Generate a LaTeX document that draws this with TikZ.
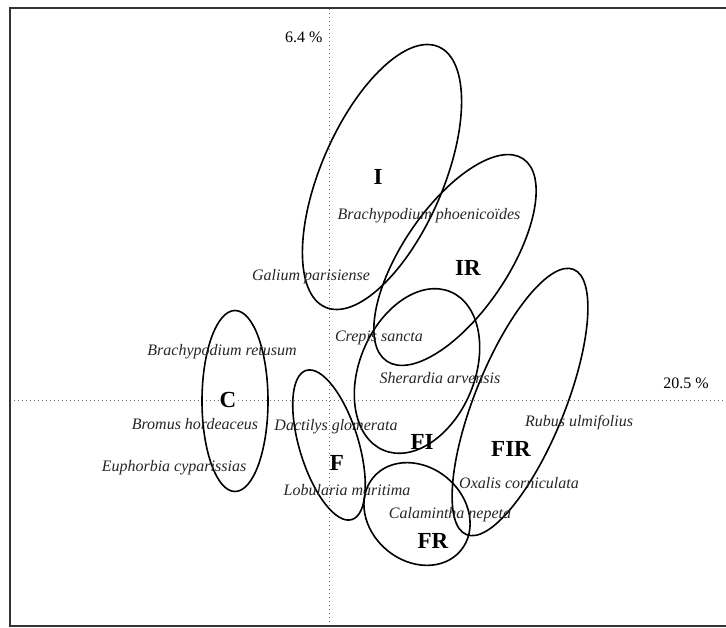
\documentclass[tikz,border=0pt]{standalone}
\usepackage{fontspec}
\setmainfont{Liberation Serif}
\usetikzlibrary{positioning}
\definecolor{axisgray}{RGB}{110,110,110}

\begin{document}
\begin{tikzpicture}[x=1pt, y=-1pt,
    grp/.style={font=\fontsize{23}{23}\selectfont\bfseries, fill=white, inner sep=1pt},
    sp/.style={font=\fontsize{16}{16}\selectfont\itshape, text=black!85, inner sep=0pt},
    zone/.style={line width=1.6pt},
    axisline/.style={axisgray, line width=1pt, dash pattern=on 1pt off 3pt}]
  \useasboundingbox (0,0) rectangle (726,628);

  % axes and frame
  \draw[axisline] (10,401) -- (726,401);
  \draw[axisline] (329,9) -- (329,626);
  \draw[line width=1.6pt, black!80] (726,8) -- (10,8) -- (10,626) -- (726,626);
  \node[font=\fontsize{16}{16}\selectfont, anchor=east] (axv) at (326,37) {6.4 \%};
  \node[font=\fontsize{16}{16}\selectfont] (axh) at (686,383) {20.5 \%};

  % group labels
  \node[grp] (lI)   at (378,177) {I};
  \node[grp] (lIR)  at (468,268) {IR};
  \node[grp] (lC)   at (228,400) {C};
  \node[grp] (lFI)  at (422,442) {FI};
  \node[grp, fill=none] (lF) at (337,463) {F};
  \node[grp] (lFIR) at (511,449) {FIR};
  \node[grp] (lFR)  at (433,541) {FR};

  % group ellipses
  \draw[zone, shift={(382,177)}, rotate=66.5] (0,0) ellipse [x radius=142, y radius=61];
  \draw[zone, shift={(455,260)}, rotate=56]   (0,0) ellipse [x radius=122, y radius=53];
  \draw[zone, shift={(235,401)}]              (0,0) ellipse [x radius=33, y radius=90.5];
  \draw[zone, shift={(417,371)}, rotate=67]   (0,0) ellipse [x radius=86, y radius=57.5];
  \draw[zone, shift={(329,445)}, rotate=-73]  (0,0) ellipse [x radius=78, y radius=29.5];
  \draw[zone, shift={(520,402)}, rotate=68]   (0,0) ellipse [x radius=143, y radius=45];
  \draw[zone, shift={(417,514)}, rotate=-40]  (0,0) ellipse [x radius=57, y radius=47];

  % species
  \node[sp] (bphoen) at (429,216) {Brachypodium phoenicoïdes};
  \node[sp] (galium) at (311,277) {Galium parisiense};
  \node[sp] (crepis) at (379,338) {Crepis sancta};
  \node[sp] (sherar) at (440,378) {Sherardia arvensis};
  \node[sp] (bretus) at (222,352) {Brachypodium retusum};
  \node[sp] (bromus) at (195,424) {Bromus hordeaceus};
  \node[sp] (euphor) at (174,468) {Euphorbia cyparissias};
  \node[sp] (dactil) at (336,427) {Dactilys glomerata};
  \node[sp] (lobula) at (347,490) {Lobularia maritima};
  \node[sp] (rubus)  at (579,423) {Rubus ulmifolius};
  \node[sp] (oxalis) at (519,483) {Oxalis corniculata};
  \node[sp] (calami) at (450,515) {Calamintha nepeta};
\end{tikzpicture}
\end{document}
